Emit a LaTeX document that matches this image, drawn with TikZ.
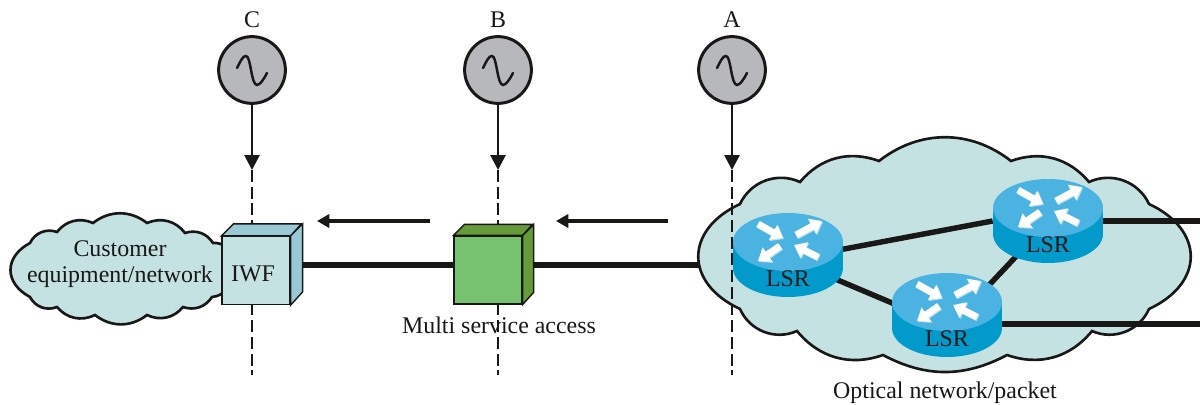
\documentclass[tikz,border=0pt]{standalone}
\usepackage{fontspec}
\setmainfont{Liberation Serif}
\usetikzlibrary{arrows.meta,shapes.geometric}

\definecolor{cloudfill}{HTML}{C5E2E3}
\definecolor{clockfill}{HTML}{B6B8BB}
\definecolor{iwfside}{HTML}{9AC9D6}
\definecolor{msafront}{HTML}{76C26F}
\definecolor{msaside}{HTML}{659B38}
\definecolor{lsrtop}{HTML}{4AB3E2}
\definecolor{lsrside}{HTML}{009ACB}
\definecolor{lsrshade}{HTML}{B5DFF3}
\definecolor{ink}{HTML}{1A1717}

\tikzset{
  every node/.style={font=\fontsize{13.6}{15.2}\selectfont,text=ink,align=center},
  clock/.style={circle,draw=ink,fill=clockfill,line width=1.7pt,minimum size=38pt,inner sep=0pt},
  wave/.style={draw=ink,line width=1.4pt,line cap=round},
  feed/.style={draw=ink,line width=1.6pt,-{Triangle[length=8.5pt,width=8.5pt]}},
  tap/.style={draw=ink,line width=1.6pt,dash pattern=on 6.8pt off 2.7pt},
  flow/.style={draw=ink,line width=1.8pt,-{Triangle[length=7pt,width=7.5pt]}},
  trunk/.style={draw=ink,line width=3.8pt},
  link/.style={draw=ink,line width=3.1pt},
  cloudline/.style={draw=ink,fill=cloudfill,line width=1.5pt},
  front/.style={draw=ink,line width=0.8pt,minimum size=38.6pt,inner sep=0pt},
  lsrspot/.style={ellipse,minimum width=2.2cm,minimum height=1.68cm,inner sep=0pt},
  lsrarrow/.style={line width=3.9pt,-{Triangle[length=6.5pt,width=9.5pt]}}
}

% one signal source, drawn on its node
\newcommand{\clockwave}[1]{
  \draw[wave,shift={(#1)}] (-15,-2) .. controls (-11,-10) and (-9,-14) .. (-6,-14)
    .. controls (-1,-14) and (-1,15) .. (5,15) .. controls (8,15) and (12,9) .. (15,3);
}

% one router, drawn on its node
\newcommand{\lsrbody}[1]{
  \begin{scope}[shift={(#1)}]
    \fill[lsrside] (0,13) ellipse (55 and 29);
    \fill[lsrside] (-55,-13) rectangle (55,13);
    \fill[lsrtop] (0,-13) ellipse (55 and 29);
    \foreach \xa/\ya/\xb/\yb in {-30/-31/-5/-17, 30/2/6/-10, 8/-20/34/-34, -8/-9/-30/6} {
      \draw[lsrarrow,lsrshade] (\xa+1,\ya+1) -- (\xb+1,\yb+1);
      \draw[lsrarrow,white] (\xa,\ya) -- (\xb,\yb);
    }
    \node (#1text) at (0,24) {LSR};
  \end{scope}
}

\begin{document}
\begin{tikzpicture}[x=0.02cm,y=-0.02cm]
\useasboundingbox (0,0) rectangle (1200,405);

% clouds
\draw[cloudline] (226,247) to[bend right=20] (213,243) to[bend right=38] (185,233)
  to[bend right=38] (147,223) to[bend right=38] (93,223) to[bend right=38] (57,232)
  to[bend right=42] (30,243) to[bend right=62,looseness=1.4] (30,297) to[bend right=42] (57,307)
  to[bend right=38] (95,315) to[bend right=38] (147,315) to[bend right=38] (183,307)
  to[bend right=38] (212,297) to[bend right=20] (226,290) -- cycle;

\draw[trunk] (300,265) -- (460,265);
\draw[trunk] (530,265) -- (705,265);

\draw[cloudline] (740,204) to[bend left=45] (800,182) to[bend left=35] (879,161)
  to[bend left=38] (1011,161) to[bend left=35] (1089,182) to[bend left=45] (1149,204)
  to[bend left=65,looseness=1.5] (1149,309) to[bend left=45] (1092,331) to[bend left=35] (1007,355)
  to[bend left=28] (883,355) to[bend left=35] (797,331) to[bend left=45] (740,309)
  to[bend left=65,looseness=1.5] cycle;

% sources
\node (labelC) at (252,20) {C};
\node (labelB) at (498,20) {B};
\node (labelA) at (732,20) {A};
\node[clock] (clockC) at (252,70) {};
\node[clock] (clockB) at (498,70) {};
\node[clock] (clockA) at (732,70) {};
\clockwave{clockC}
\clockwave{clockB}
\clockwave{clockA}

\foreach \name/\x in {C/252,B/498,A/732} {
  \coordinate (tap\name) at (\x,170);
  \coordinate (end\name) at (\x,375);
  \draw[tap] (tap\name) -- (end\name);
  \draw[feed] (clock\name) -- (tap\name);
}

% direction of flow
\coordinate (flowAfrom) at (668,221);
\coordinate (flowAto) at (556,221);
\coordinate (flowBfrom) at (430,221);
\coordinate (flowBto) at (317,221);
\draw[flow] (flowAfrom) -- (flowAto);
\draw[flow] (flowBfrom) -- (flowBto);

% boxes
\node[front,fill=cloudfill] (iwf) at (256,270.5) {};
\filldraw[draw=ink,fill=iwfside,line width=0.8pt] (iwf.north west) -- ++(12,-12) -- ++(68,0) -- (iwf.north east) -- cycle;
\filldraw[draw=ink,fill=iwfside,line width=0.8pt] (iwf.north east) -- ++(12,-12) -- ++(0,68) -- (iwf.south east) -- cycle;
\node (iwftext) at (253,274) {IWF};

\node[front,fill=msafront] (msa) at (488,270) {};
\filldraw[draw=ink,fill=msaside,line width=0.8pt] (msa.north west) -- ++(11,-11) -- ++(68,0) -- (msa.north east) -- cycle;
\filldraw[draw=ink,fill=msaside,line width=0.8pt] (msa.north east) -- ++(11,-11) -- ++(0,68) -- (msa.south east) -- cycle;

% routers
\node[lsrspot] (lsrA) at (788,255) {};
\node[lsrspot] (lsrB) at (1048,221) {};
\node[lsrspot] (lsrC) at (947,315) {};
\coordinate (outB) at (1200,221);
\coordinate (outC) at (1200,324);

\draw[link] (lsrA.6) -- (lsrB.west);
\draw[link] (lsrA.-27) -- (lsrC.168);
\draw[link] (lsrB.228) -- (lsrC.35);
\draw[link] (lsrB) -- (outB);
\draw[link] (lsrC |- outC) -- (outC);

\lsrbody{lsrA}
\lsrbody{lsrB}
\lsrbody{lsrC}

% texts
\node (customer) at (120,264) {Customer\\equipment/network};
\node (msatext) at (499,325) {Multi service access};
\node (opticaltext) at (945,393) {Optical network/packet};

\end{tikzpicture}
\end{document}
